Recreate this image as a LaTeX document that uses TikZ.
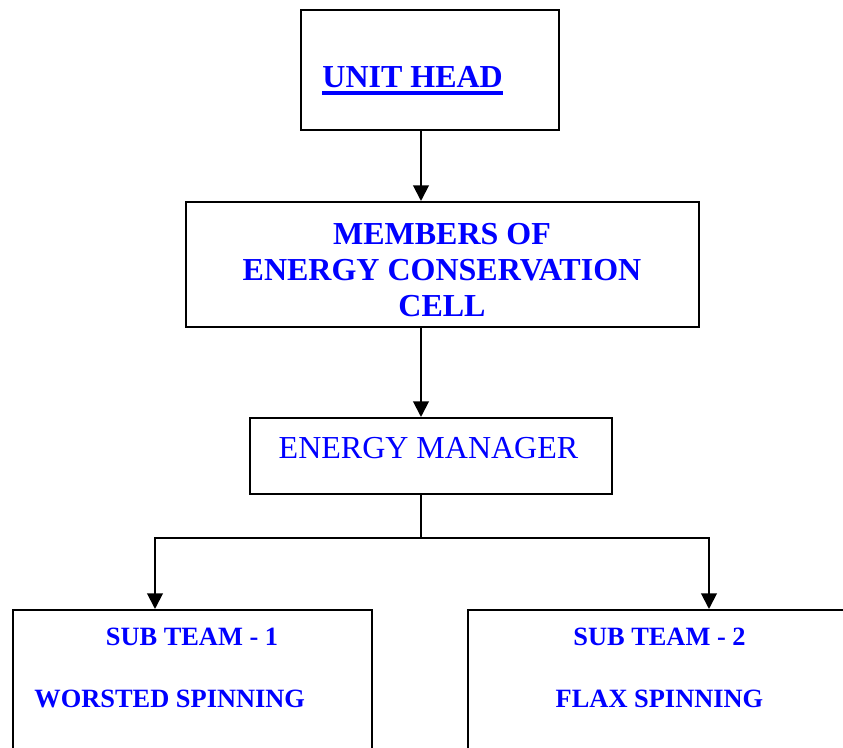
\documentclass[tikz,border=0pt]{standalone}
\usepackage{fontspec}
\setmainfont{Liberation Serif}
\usetikzlibrary{arrows.meta}
\definecolor{cellblue}{RGB}{0,0,255}

\begin{document}
\begin{tikzpicture}[x=0.5pt,y=-0.5pt,
    box/.style={draw,line width=1pt,inner sep=0pt},
    lbl/.style={text=cellblue,inner sep=0pt},
    bigbold/.style={font=\bfseries\fontsize{16}{18}\selectfont},
    big/.style={font=\fontsize{16}{18}\selectfont},
    teambold/.style={font=\bfseries\fontsize{13.2}{15}\selectfont},
    conn/.style={line width=1pt,line join=miter,-{Triangle[length=7.8pt,width=7.8pt]}}]
  \useasboundingbox (0,0) rectangle (843,748);

  \node[box,minimum width=129pt,minimum height=60pt] (unithead) at (430,70) {};
  \node[box,minimum width=256.5pt,minimum height=62.5pt] (members) at (442.5,264.5) {};
  \node[box,minimum width=181pt,minimum height=38pt] (manager) at (431,456) {};
  \node[box,minimum width=179.5pt,minimum height=80pt,anchor=north west] (teamA) at (12,609) {};
  \node[box,minimum width=193pt,minimum height=80pt,anchor=north west] (teamB) at (467,609) {};

  \node[lbl,bigbold,anchor=base west] (unitheadtxt) at (322,88) {UNIT HEAD};
  \draw[cellblue,line width=1.8pt] ([yshift=-2.5pt]unitheadtxt.base west) -- ([yshift=-2.5pt]unitheadtxt.base east);
  \node[lbl,bigbold,align=center] (memberstxt) at (442,270) {MEMBERS OF\\ENERGY CONSERVATION\\CELL};
  \node[lbl,big,anchor=base] (managertxt) at (428.5,459) {ENERGY MANAGER};
  \node[lbl,teambold,anchor=base] (teamAtitle) at (192,646) {SUB TEAM - 1};
  \node[lbl,teambold,anchor=base west] (teamAwork) at (34,708) {WORSTED SPINNING};
  \node[lbl,teambold,anchor=base] (teamBtitle) at (659.5,646) {SUB TEAM - 2};
  \node[lbl,teambold,anchor=base] (teamBwork) at (659.5,708) {FLAX SPINNING};

  \coordinate (spine) at (421,0);
  \coordinate (split) at (421,538);
  \coordinate (dropA) at (155,0);
  \coordinate (dropB) at (709,0);
  \draw[conn] (unithead.south -| spine) -- (members.north -| spine);
  \draw[conn] (members.south -| spine) -- (manager.north -| spine);
  \draw[line width=1pt] (manager.south -| spine) -- (split);
  \draw[conn] (split) -| (teamA.north -| dropA);
  \draw[conn] (split) -| (teamB.north -| dropB);
\end{tikzpicture}
\end{document}
